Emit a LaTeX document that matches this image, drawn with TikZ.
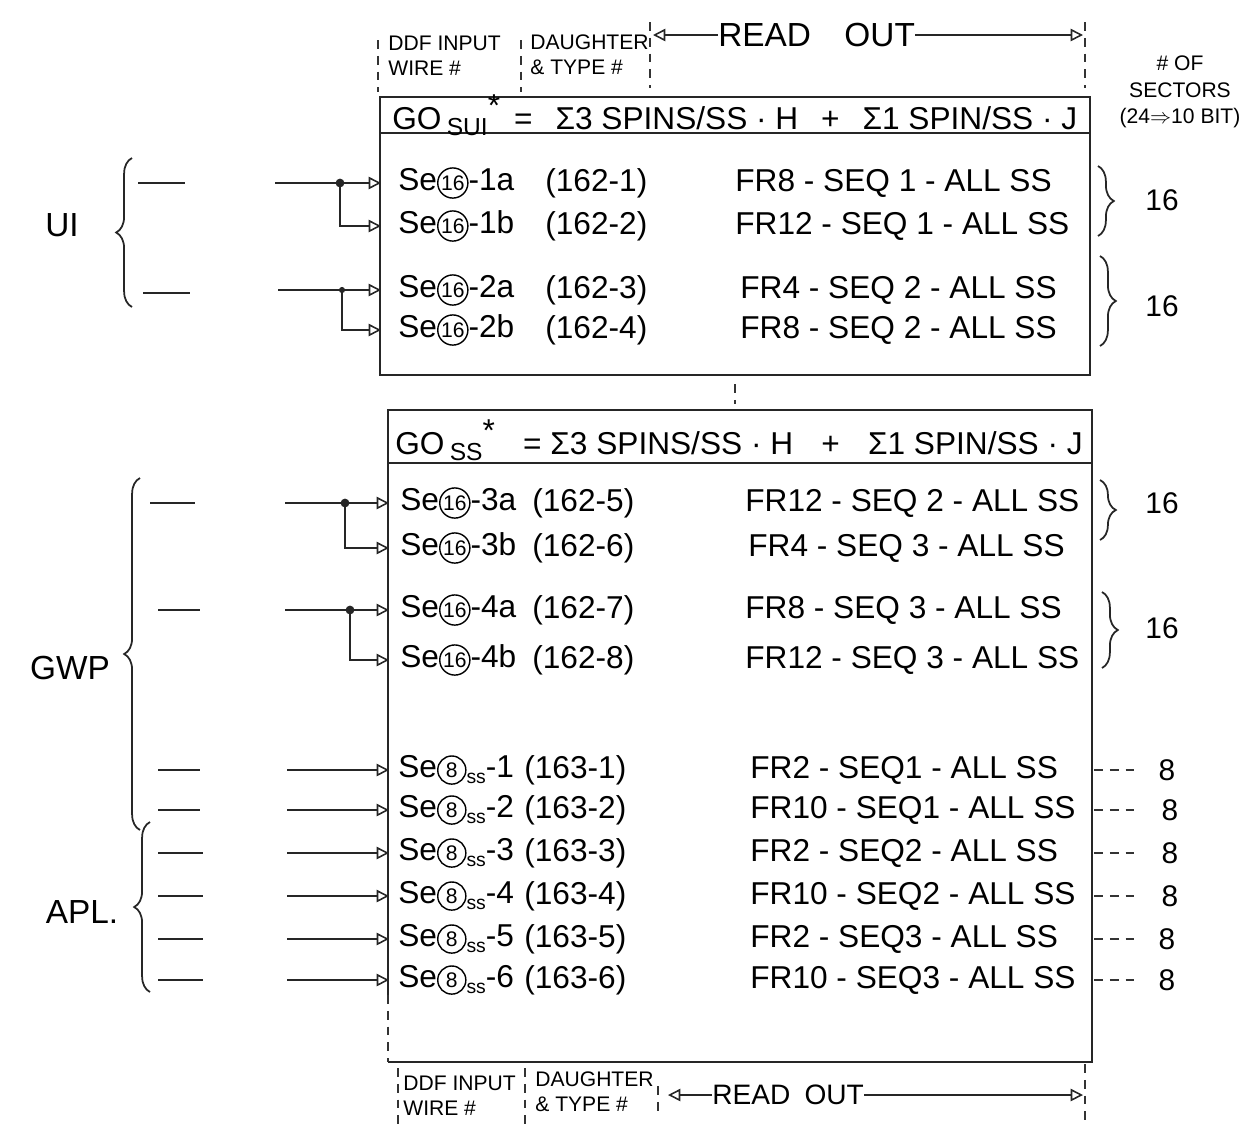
\documentclass[tikz,border=0pt]{standalone}
\usepackage{fontspec}
\setmainfont{Liberation Sans}
\usetikzlibrary{arrows.meta,decorations.pathreplacing,positioning}

% circled daughter-card number, e.g. Se(16)
\newcommand{\circnum}[1]{\tikz[baseline=(cn.base)]\node[draw,circle,inner sep=0.5pt,minimum size=16pt,line width=0.8pt,font=\fontsize{12}{12}\selectfont](cn){#1};}
\newcommand{\subss}{\raisebox{-0.4ex}{\fontsize{11}{11}\selectfont ss}}

\begin{document}
\begin{tikzpicture}[x={(0.02cm,0cm)}, y={(0cm,-0.02cm)},
  rowtxt/.style={anchor=west, inner sep=0pt, font=\fontsize{18}{20}\selectfont},
  ttl/.style={anchor=west, inner sep=0pt, font=\fontsize{18}{20}\selectfont},
  hdr/.style={anchor=west, inner sep=0pt, align=left, font=\fontsize{12}{14}\selectfont},
  grp/.style={inner sep=0pt, font=\fontsize{19}{22}\selectfont},
  cnt/.style={inner sep=0pt, font=\fontsize{17}{20}\selectfont},
  frame/.style={draw=black!85, line width=1.1pt},
  tick/.style={black!80, line width=0.9pt, dash pattern=on 5pt off 4pt},
  stub/.style={black!85, line width=1pt},
  feed/.style={black!85, line width=0.9pt, -{Triangle[open,length=7pt,width=7pt]}},
  ro/.style={black!85, line width=0.9pt, -{Triangle[open,length=7pt,width=7pt]}},
  dot/.style={circle, fill=black!85, inner sep=0pt, minimum size=5pt},
  brc/.style={decorate, decoration={brace, amplitude=9pt}, black!85, line width=1pt}
]
  \useasboundingbox (0,0) rectangle (1257,1127);

  % ── Top header ─────────────────────────────────────────────────────────
  \node[hdr] (ddfin)  at (388,56) {DDF INPUT\\WIRE \#};
  \node[hdr] (dtype)  at (530,55) {DAUGHTER\\\& TYPE \#};
  \node[hdr, font=\fontsize{19}{20}\selectfont] (rdout) at (718,35) {READ\quad OUT};
  \coordinate (rdl) at (653,35);
  \coordinate (rdr) at (1083,35);
  \draw[ro] (rdout.west) -- (rdl);
  \draw[ro] (rdout.east) -- (rdr);
  \draw[tick] (378,40) -- (378,92);
  \draw[tick] (521,40) -- (521,92);
  \draw[tick] (650,22) -- (650,88);
  \draw[tick] (1085,22) -- (1085,88);
  \node[hdr, align=center, anchor=center, font=\fontsize{12}{15}\selectfont] (nsec)
       at (1180,92) {\# OF\\SECTORS\\(24$\Rightarrow$10 BIT)};

  % ── Top box: GO SUI ────────────────────────────────────────────────────
  \draw[frame] (380,97) rectangle (1090,375);
  \draw[frame] (380,133) -- (1090,133);
  \node[ttl] (tsui) at (392,115)
       {\hbox to 13.7cm{GO\,\raisebox{-0.35ex}{\fontsize{14}{14}\selectfont SUI}\raisebox{0.8ex}{*}\hfill = \hfill Σ3 SPINS/SS · H \hfill + \hfill Σ1 SPIN/SS · J}};

  \node[rowtxt] (se1a) at (398,183) {Se\circnum{16}-1a};
  \node[rowtxt] (dt1a) at (545,183) {(162-1)};
  \node[rowtxt] (fr1a) at (735,183) {FR8 - SEQ 1 - ALL SS};
  \node[rowtxt] (se1b) at (398,226) {Se\circnum{16}-1b};
  \node[rowtxt] (dt1b) at (545,226) {(162-2)};
  \node[rowtxt] (fr1b) at (735,226) {FR12 - SEQ 1 - ALL SS};
  \node[rowtxt] (se2a) at (398,290) {Se\circnum{16}-2a};
  \node[rowtxt] (dt2a) at (545,290) {(162-3)};
  \node[rowtxt] (fr2a) at (740,290) {FR4 - SEQ 2 - ALL SS};
  \node[rowtxt] (se2b) at (398,330) {Se\circnum{16}-2b};
  \node[rowtxt] (dt2b) at (545,330) {(162-4)};
  \node[rowtxt] (fr2b) at (740,330) {FR8 - SEQ 2 - ALL SS};

  % ── UI inputs ──────────────────────────────────────────────────────────
  \node[grp] (ui) at (62,225) {UI};
  \draw[brc] (132,307) -- (132,158);
  \draw[stub] (138,183) -- (185,183);
  \draw[stub] (143,293) -- (190,293);
  \coordinate (w1) at (275,183);  \coordinate (e1a) at (381,183);
  \coordinate (e1b) at (381,226);
  \coordinate (w2) at (278,290);  \coordinate (e2a) at (381,290);
  \coordinate (e2b) at (381,330);
  \node[dot] (j1) at (340,183) {};
  \node[dot, minimum size=3.5pt] (j2) at (342,290) {};
  \draw[feed] (w1) -- (e1a);
  \draw[feed] (j1.center) |- (e1b);
  \draw[feed] (w2) -- (e2a);
  \draw[feed] (j2.center) |- (e2b);

  % ── Counts, top box ────────────────────────────────────────────────────
  \draw[brc] (1098,166) -- (1098,236);
  \node[cnt] (n1) at (1162,200) {16};
  \draw[brc] (1100,256) -- (1100,346);
  \node[cnt] (n2) at (1162,306) {16};

  % ── Between boxes ──────────────────────────────────────────────────────
  \draw[tick] (735,384) -- (735,404);

  % ── Bottom box: GO SS ──────────────────────────────────────────────────
  \draw[frame] (388,995) -- (388,410) -- (1092,410) -- (1092,1062) -- (388,1062);
  \draw[tick] (388,995) -- (388,1062);
  \draw[frame] (388,463) -- (1092,463);
  \node[ttl] (tss) at (395,440)
       {\hbox to 13.75cm{GO\,\raisebox{-0.35ex}{\fontsize{14}{14}\selectfont SS}\raisebox{0.8ex}{*} \hfill = Σ3 SPINS/SS · H \hfill + \hfill Σ1 SPIN/SS · J}};

  \node[rowtxt] (se3a) at (400,503) {Se\circnum{16}-3a};
  \node[rowtxt] (dt3a) at (532,503) {(162-5)};
  \node[rowtxt] (fr3a) at (745,503) {FR12 - SEQ 2 - ALL SS};
  \node[rowtxt] (se3b) at (400,548) {Se\circnum{16}-3b};
  \node[rowtxt] (dt3b) at (532,548) {(162-6)};
  \node[rowtxt] (fr3b) at (748,548) {FR4 - SEQ 3 - ALL SS};
  \node[rowtxt] (se4a) at (400,610) {Se\circnum{16}-4a};
  \node[rowtxt] (dt4a) at (532,610) {(162-7)};
  \node[rowtxt] (fr4a) at (745,610) {FR8 - SEQ 3 - ALL SS};
  \node[rowtxt] (se4b) at (400,660) {Se\circnum{16}-4b};
  \node[rowtxt] (dt4b) at (532,660) {(162-8)};
  \node[rowtxt] (fr4b) at (745,660) {FR12 - SEQ 3 - ALL SS};

  \node[rowtxt] (se51) at (398,770) {Se\circnum{8}\subss-1};
  \node[rowtxt] (dt51) at (524,770) {(163-1)};
  \node[rowtxt] (fr51) at (750,770) {FR2 - SEQ1 - ALL SS};
  \node[rowtxt] (se52) at (398,810) {Se\circnum{8}\subss-2};
  \node[rowtxt] (dt52) at (524,810) {(163-2)};
  \node[rowtxt] (fr52) at (750,810) {FR10 - SEQ1 - ALL SS};
  \node[rowtxt] (se53) at (398,853) {Se\circnum{8}\subss-3};
  \node[rowtxt] (dt53) at (524,853) {(163-3)};
  \node[rowtxt] (fr53) at (750,853) {FR2 - SEQ2 - ALL SS};
  \node[rowtxt] (se54) at (398,896) {Se\circnum{8}\subss-4};
  \node[rowtxt] (dt54) at (524,896) {(163-4)};
  \node[rowtxt] (fr54) at (750,896) {FR10 - SEQ2 - ALL SS};
  \node[rowtxt] (se55) at (398,939) {Se\circnum{8}\subss-5};
  \node[rowtxt] (dt55) at (524,939) {(163-5)};
  \node[rowtxt] (fr55) at (750,939) {FR2 - SEQ3 - ALL SS};
  \node[rowtxt] (se56) at (398,980) {Se\circnum{8}\subss-6};
  \node[rowtxt] (dt56) at (524,980) {(163-6)};
  \node[rowtxt] (fr56) at (750,980) {FR10 - SEQ3 - ALL SS};

  % ── GWP inputs ─────────────────────────────────────────────────────────
  \node[grp] (gwp) at (70,668) {GWP};
  \draw[brc] (140,830) -- (140,478);
  \draw[stub] (150,503) -- (195,503);
  \draw[stub] (158,610) -- (200,610);
  \draw[stub] (158,770) -- (200,770);
  \draw[stub] (158,810) -- (200,810);
  \coordinate (w3) at (285,503);  \coordinate (e3a) at (389,503);
  \coordinate (e3b) at (389,548);
  \coordinate (w4) at (285,610);  \coordinate (e4a) at (389,610);
  \coordinate (e4b) at (389,660);
  \node[dot] (j3) at (345,503) {};
  \node[dot] (j4) at (350,610) {};
  \draw[feed] (w3) -- (e3a);
  \draw[feed] (j3.center) |- (e3b);
  \draw[feed] (w4) -- (e4a);
  \draw[feed] (j4.center) |- (e4b);
  \coordinate (w51) at (287,770);  \coordinate (e51) at (389,770);
  \coordinate (w52) at (287,810);  \coordinate (e52) at (389,810);
  \draw[feed] (w51) -- (e51);
  \draw[feed] (w52) -- (e52);

  % ── APL inputs ─────────────────────────────────────────────────────────
  \node[grp] (apl) at (82,912) {APL.};
  \draw[brc] (150,992) -- (150,822);
  \draw[stub] (158,853) -- (203,853);
  \draw[stub] (158,896) -- (203,896);
  \draw[stub] (158,939) -- (203,939);
  \draw[stub] (158,980) -- (203,980);
  \coordinate (w53) at (287,853);  \coordinate (e53) at (389,853);
  \coordinate (w54) at (287,896);  \coordinate (e54) at (389,896);
  \coordinate (w55) at (287,939);  \coordinate (e55) at (389,939);
  \coordinate (w56) at (287,980);  \coordinate (e56) at (389,980);
  \draw[feed] (w53) -- (e53);
  \draw[feed] (w54) -- (e54);
  \draw[feed] (w55) -- (e55);
  \draw[feed] (w56) -- (e56);

  % ── Counts, bottom box ─────────────────────────────────────────────────
  \draw[brc] (1100,480) -- (1100,540);
  \node[cnt] (n3) at (1162,503) {16};
  \draw[brc] (1102,592) -- (1102,668);
  \node[cnt] (n4) at (1162,628) {16};
  \draw[tick] (1094,770) -- (1140,770);  \node[cnt] (c1) at (1167,770) {8};
  \draw[tick] (1094,810) -- (1140,810);  \node[cnt] (c2) at (1170,810) {8};
  \draw[tick] (1094,853) -- (1140,853);  \node[cnt] (c3) at (1170,853) {8};
  \draw[tick] (1094,896) -- (1140,896);  \node[cnt] (c4) at (1170,896) {8};
  \draw[tick] (1094,939) -- (1140,939);  \node[cnt] (c5) at (1167,939) {8};
  \draw[tick] (1094,980) -- (1140,980);  \node[cnt] (c6) at (1167,980) {8};

  % ── Bottom header ──────────────────────────────────────────────────────
  \node[hdr] (ddfin2) at (403,1096) {DDF INPUT\\WIRE \#};
  \node[hdr] (dtype2) at (535,1092) {DAUGHTER\\\& TYPE \#};
  \node[hdr, font=\fontsize{16}{18}\selectfont] (rdout2) at (712,1095) {READ\enspace OUT};
  \coordinate (rdl2) at (668,1095);
  \coordinate (rdr2) at (1083,1095);
  \draw[ro] (rdout2.west) -- (rdl2);
  \draw[ro] (rdout2.east) -- (rdr2);
  \draw[tick] (398,1068) -- (398,1127);
  \draw[tick] (525,1068) -- (525,1127);
  \draw[tick] (658,1086) -- (658,1114);
  \draw[tick] (1085,1064) -- (1085,1127);
\end{tikzpicture}
\end{document}
